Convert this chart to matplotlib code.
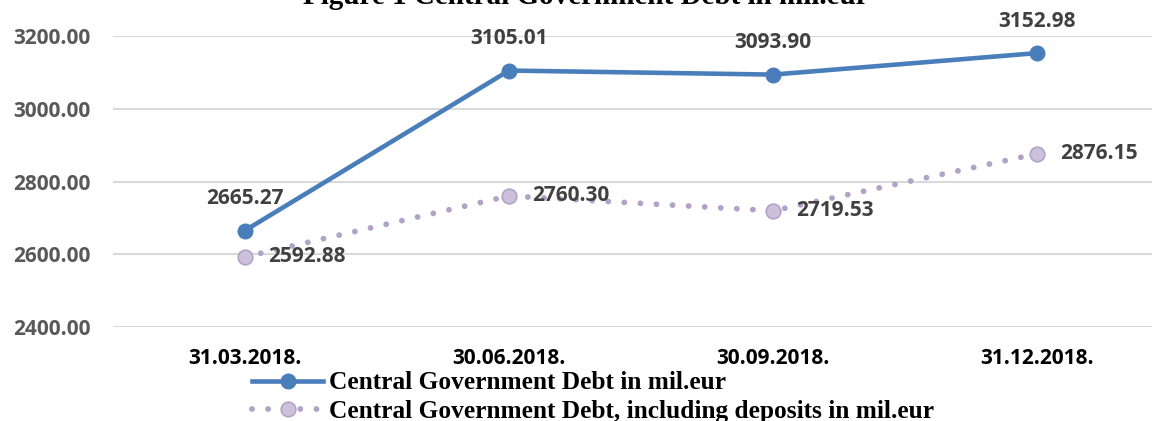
import numpy as np
import matplotlib.pyplot as plt

# data
quarters = ["31.03.2018.", "30.06.2018.", "30.09.2018.", "31.12.2018."]
debt = [2665.27, 3105.01, 3093.90, 3152.98]
debt_with_deposits = [2592.88, 2760.30, 2719.53, 2876.15]
yticks = [2400, 2600, 2800, 3000, 3200]

blue = '#4A7EBB'
lilac = '#B3A2C7'
lilac_fill = '#CCC1DA'
sans = 'Open Sans'
serif = 'Liberation Serif'

W, H = 1152, 421
fig = plt.figure(figsize=(W / 100, H / 100), dpi=100)
# axes spans x 113..1169 px (right side cropped off), y 36..327 px
ax = fig.add_axes([113 / W, (H - 327) / H, (1169 - 113) / W, (327 - 36) / H])

x = np.arange(len(quarters))

ax.plot(x, debt, color=blue, lw=3.3, marker='o', markersize=10.5,
        markerfacecolor=blue, markeredgecolor=blue, clip_on=False, zorder=3,
        label='Central Government Debt in mil.eur')
ax.plot(x, debt_with_deposits, color=lilac, lw=4.2, linestyle=(0, (0.01, 2.75)),
        dash_capstyle='round', marker='o', markersize=10.5,
        markerfacecolor=lilac_fill, markeredgecolor=lilac, markeredgewidth=1.2,
        clip_on=False, zorder=3,
        label='Central Government Debt, including deposits in mil.eur')

lab_font = dict(family=sans, fontweight='bold', fontsize=15, color='#404040')
for xi, v in zip(x, debt):
    ax.annotate(f"{v:.2f}", (xi, v), xytext=(0, 23), textcoords='offset points',
                ha='center', va='center', annotation_clip=False, **lab_font)
for xi, v in zip(x, debt_with_deposits):
    ax.annotate(f"{v:.2f}", (xi, v), xytext=(16.5, 0), textcoords='offset points',
                ha='left', va='center', annotation_clip=False, **lab_font)

ax.set_xlim(-0.5, len(quarters) - 0.5)
ax.set_ylim(2400, 3200)
ax.set_yticks(yticks)
ax.set_yticklabels([f"{t:.2f}" for t in yticks])
ax.set_xticks(x)
ax.set_xticklabels(quarters)
ax.grid(axis='y', color='#D9D9D9', lw=1.5)
ax.set_axisbelow(True)
for s in ax.spines.values():
    s.set_visible(False)
ax.tick_params(axis='both', length=0)
ax.tick_params(axis='y', pad=16, labelcolor='#595959')
ax.tick_params(axis='x', pad=15, labelcolor='black')
for t in ax.get_xticklabels() + ax.get_yticklabels():
    t.set_fontfamily(sans)
    t.set_fontweight('bold')
    t.set_fontsize(15)

# title sits mostly above the top edge, as in the cropped reference
fig.text(586 / W, (H - 4) / H, 'Figure 1 Central Government Debt in mil.eur',
         ha='center', va='baseline', family=serif, fontweight='bold',
         fontsize=21, color='black')

fig.legend(loc='center left', bbox_to_anchor=(252 / W, (H - 397) / H),
           frameon=False, borderpad=0, borderaxespad=0, handlelength=2.8,
           handletextpad=0.24, labelspacing=0.2,
           prop=dict(family=serif, weight='bold', size=18.3))

fig.savefig('out.png', dpi=100)
